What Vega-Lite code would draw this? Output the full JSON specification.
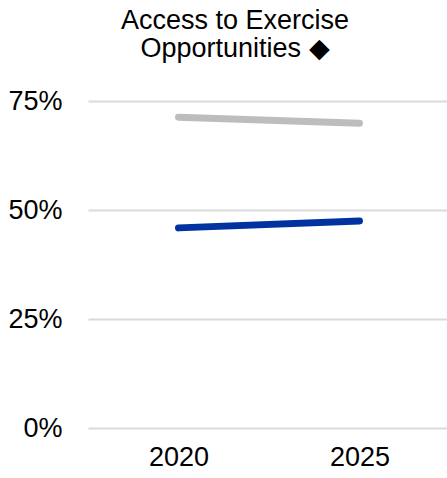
{
  "$schema": "https://vega.github.io/schema/vega-lite/v6.json",
  "width": 362,
  "height": 327,
  "autosize": "none",
  "padding": {"left": 88, "top": 101, "right": 0, "bottom": 50},
  "background": "white",
  "title": {
    "text": ["Access to Exercise", "Opportunities ◆"],
    "font": "Liberation Sans",
    "fontSize": 27,
    "fontWeight": "normal",
    "color": "#000000",
    "lineHeight": 28,
    "anchor": "middle",
    "frame": "group",
    "dx": -34,
    "offset": 24
  },
  "data": {
    "values": [
      {"year": "2020", "series": "Benchmark", "value": 0.713},
      {"year": "2025", "series": "Benchmark", "value": 0.699},
      {"year": "2020", "series": "County", "value": 0.459},
      {"year": "2025", "series": "County", "value": 0.475}
    ]
  },
  "mark": {"type": "line", "strokeWidth": 7, "strokeCap": "round"},
  "encoding": {
    "x": {
      "field": "year",
      "type": "ordinal",
      "scale": {"type": "point", "padding": 0.5},
      "axis": {
        "title": null,
        "labelAngle": 0,
        "domain": false,
        "ticks": false,
        "grid": false,
        "labelFont": "Liberation Sans",
        "labelFontSize": 27,
        "labelColor": "#000000",
        "labelPadding": 16
      }
    },
    "y": {
      "field": "value",
      "type": "quantitative",
      "scale": {"domain": [0, 0.75]},
      "axis": {
        "title": null,
        "values": [0, 0.25, 0.5, 0.75],
        "format": ".0%",
        "domain": false,
        "ticks": false,
        "labelFont": "Liberation Sans",
        "labelFontSize": 27,
        "labelColor": "#000000",
        "labelPadding": 26,
        "gridColor": "#dadada",
        "gridWidth": 2
      }
    },
    "color": {
      "field": "series",
      "type": "nominal",
      "scale": {"domain": ["Benchmark", "County"], "range": ["#bdbdbd", "#0033a0"]},
      "legend": null
    }
  },
  "config": {"view": {"stroke": null}}
}
